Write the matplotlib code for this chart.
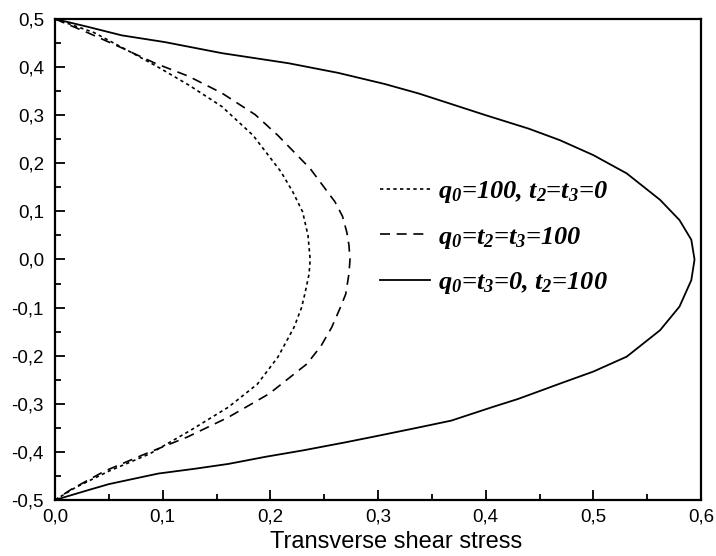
import matplotlib
matplotlib.use("Agg")
import matplotlib.pyplot as plt
from matplotlib.ticker import MultipleLocator, FuncFormatter

# --- data ---
# q0=100, t2=t3=0 (dotted)
y_dot = [0.5, 0.472, 0.434, 0.401, 0.363, 0.318, 0.258, 0.182, 0.140, 0.099, 0.050, 0.0,
         -0.030, -0.072, -0.100, -0.141, -0.203, -0.259, -0.307, -0.355, -0.404, -0.440, -0.474, -0.5]
x_dot = [0.0, 0.036, 0.068, 0.095, 0.124, 0.155, 0.184, 0.210, 0.221, 0.230, 0.235, 0.237,
         0.236, 0.232, 0.229, 0.222, 0.207, 0.188, 0.161, 0.126, 0.088, 0.050, 0.019, 0.0]
# q0=t2=t3=100 (dashed)
y_dash = [0.5, 0.471, 0.440, 0.408, 0.381, 0.346, 0.301, 0.258, 0.189, 0.150, 0.120, 0.090, 0.057, 0.030, 0.0,
          -0.030, -0.072, -0.100, -0.141, -0.180, -0.217, -0.279, -0.328, -0.369, -0.404, -0.440, -0.478, -0.5]
x_dash = [0.0, 0.031, 0.062, 0.093, 0.124, 0.155, 0.186, 0.207, 0.237, 0.250, 0.260, 0.267, 0.271, 0.273, 0.274,
          0.273, 0.270, 0.265, 0.257, 0.247, 0.234, 0.199, 0.161, 0.123, 0.084, 0.046, 0.015, 0.0]
# q0=t3=0, t2=100 (solid)
y_sol = [0.5, 0.484, 0.466, 0.452, 0.429, 0.408, 0.388, 0.365, 0.345, 0.324, 0.300, 0.272, 0.248,
         0.217, 0.179, 0.124, 0.082, 0.041, 0.0, -0.043, -0.098, -0.147, -0.202, -0.233, -0.258,
         -0.272, -0.290, -0.307, -0.335, -0.350, -0.367, -0.380, -0.397, -0.410, -0.425, -0.435,
         -0.445, -0.455, -0.467, -0.480, -0.5]
x_sol = [0.0, 0.030, 0.062, 0.102, 0.155, 0.217, 0.263, 0.306, 0.338, 0.367, 0.400, 0.440, 0.469,
         0.500, 0.531, 0.562, 0.580, 0.591, 0.594, 0.591, 0.580, 0.562, 0.531, 0.500, 0.469,
         0.452, 0.430, 0.406, 0.368, 0.336, 0.299, 0.270, 0.230, 0.196, 0.161, 0.130,
         0.096, 0.075, 0.050, 0.030, 0.0]

labels = [r"$q_0$=100, $t_2$=$t_3$=0",
          r"$q_0$=$t_2$=$t_3$=100",
          r"$q_0$=$t_3$=0, $t_2$=100"]
xlabel = "Transverse shear stress"

plt.rcParams['mathtext.fontset'] = 'custom'
plt.rcParams['mathtext.rm'] = 'Liberation Serif:bold:italic'
plt.rcParams['mathtext.it'] = 'Liberation Serif:bold:italic'
plt.rcParams['mathtext.bf'] = 'Liberation Serif:bold:italic'
plt.rcParams['font.family'] = ['Liberation Sans', 'DejaVu Sans']

fig = plt.figure(figsize=(7.16, 5.56), dpi=100)
ax = fig.add_axes([55/716, 1 - 500/556, 646/716, 481/556])

ax.plot(x_dot, y_dot, color='black', lw=1.2, linestyle=(0, (2, 2)), label=labels[0])
ax.plot(x_dash, y_dash, color='black', lw=1.2, linestyle=(0, (6, 4)), label=labels[1])
ax.plot(x_sol, y_sol, color='black', lw=1.3, linestyle='-', label=labels[2])

ax.set_xlim(0, 0.6)
ax.set_ylim(-0.5, 0.5)
ax.xaxis.set_major_locator(MultipleLocator(0.1))
ax.xaxis.set_minor_locator(MultipleLocator(0.05))
ax.yaxis.set_major_locator(MultipleLocator(0.1))
ax.yaxis.set_minor_locator(MultipleLocator(0.05))
fmt = FuncFormatter(lambda v, p: ("%.1f" % v).replace('.', ',').replace('-0,0', '0,0'))
ax.xaxis.set_major_formatter(fmt)
ax.yaxis.set_major_formatter(fmt)
ax.tick_params(which='both', direction='in', top=False, right=False, width=1.3)
ax.tick_params(which='major', length=7, labelsize=13.5)
ax.tick_params(which='minor', length=4)
ax.tick_params(axis='y', which='major', pad=8)
ax.tick_params(axis='x', which='major', pad=6)
for s in ax.spines.values():
    s.set_linewidth(1.6)

ax.set_xlabel(xlabel, fontsize=17)
ax.xaxis.set_label_coords(0.528, -0.064)

leg = ax.legend(loc='upper left', bbox_to_anchor=(0.503, 0.667), frameon=False,
                borderpad=0, borderaxespad=0, handlelength=1.9, handletextpad=0.3,
                labelspacing=0.74,
                prop={'family': 'Liberation Serif', 'weight': 'bold', 'style': 'italic', 'size': 19})

fig.savefig('out.png', dpi=100)
